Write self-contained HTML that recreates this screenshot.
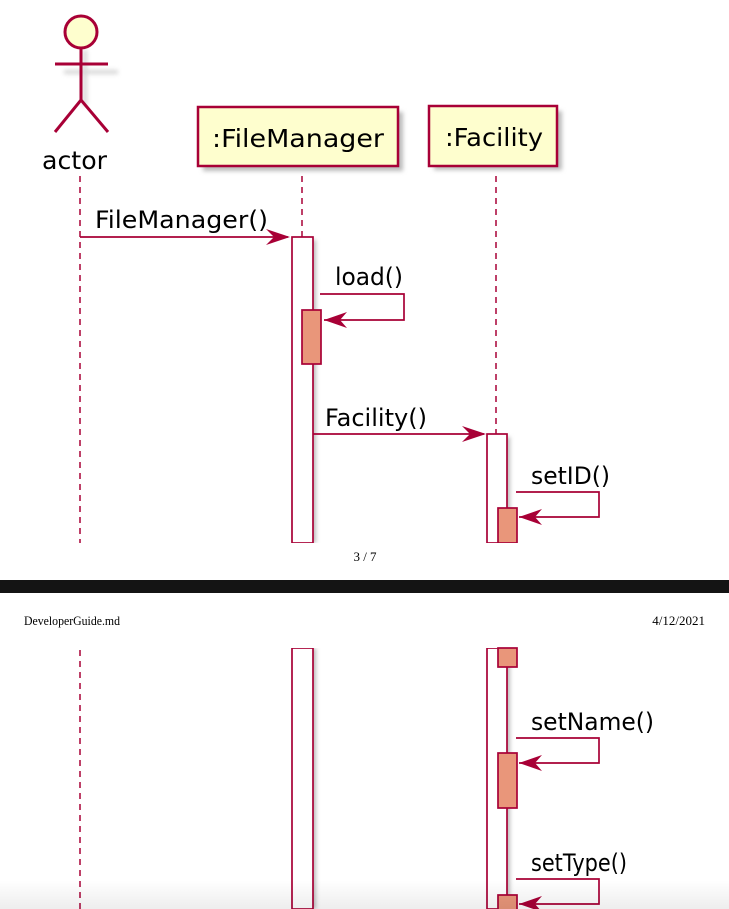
<!DOCTYPE html>
<html><head><meta charset="utf-8"><style>
html,body{margin:0;padding:0;background:#fff;width:729px;height:909px;overflow:hidden}
svg{display:block}
</style></head><body>
<svg width="729" height="909" viewBox="0 0 729 909" xmlns="http://www.w3.org/2000/svg">
<defs>
<filter id="sh" x="-20%" y="-20%" width="150%" height="150%"><feGaussianBlur stdDeviation="2"/></filter>
<linearGradient id="bot" x1="0" y1="0" x2="0" y2="1"><stop offset="0" stop-color="#000" stop-opacity="0"/><stop offset="1" stop-color="#000" stop-opacity="0.07"/></linearGradient>
</defs>
<g font-family="'DejaVu Sans','Liberation Sans',sans-serif" fill="#000">
<g stroke="#ccc" stroke-width="4" fill="none" filter="url(#sh)" opacity="0.8">
<line x1="64" y1="72" x2="118" y2="72"/><line x1="85" y1="50" x2="85" y2="106"/>
</g>
<circle cx="81" cy="32" r="16" fill="#FEFECE" stroke="#A80036" stroke-width="3"/>
<g stroke="#A80036" stroke-width="3" fill="none">
<line x1="55" y1="64" x2="108" y2="64"/><line x1="81" y1="48" x2="81" y2="100"/>
<polyline points="55,132 81,100 108,132"/>
</g>
<text x="42" y="169" font-size="25" textLength="65" lengthAdjust="spacingAndGlyphs">actor</text>
<rect x="203" y="112" width="200" height="59" fill="#bbb" filter="url(#sh)"/>
<rect x="198" y="107" width="200" height="59" fill="#FEFECE" stroke="#A80036" stroke-width="2.5"/>
<text x="212" y="147" font-size="25" textLength="172" lengthAdjust="spacingAndGlyphs">:FileManager</text>
<rect x="434" y="111" width="128" height="59" fill="#bbb" filter="url(#sh)"/>
<rect x="429" y="106" width="128" height="60" fill="#FEFECE" stroke="#A80036" stroke-width="2.5"/>
<text x="445" y="146" font-size="25" textLength="98" lengthAdjust="spacingAndGlyphs">:Facility</text>
<g stroke="#A80036" stroke-width="1.5" stroke-dasharray="6,5">
<line x1="80" y1="176" x2="80" y2="543"/>
<line x1="302" y1="176" x2="302" y2="237"/>
<line x1="496" y1="176" x2="496" y2="434"/>
<line x1="80" y1="650" x2="80" y2="909"/>
</g>
<line x1="80" y1="237" x2="288" y2="237" stroke="#A80036" stroke-width="1.7"/>
<polygon points="290,237 266,229 274,237 266,245" fill="#A80036"/>
<text x="95" y="228" font-size="24" textLength="173" lengthAdjust="spacingAndGlyphs">FileManager()</text>
<g filter="url(#sh)" fill="#bbb"><rect x="295" y="240" width="21" height="303"/><rect x="295" y="648" width="21" height="261"/><rect x="490" y="437" width="20" height="106"/><rect x="490" y="648" width="20" height="261"/></g>
<rect x="292" y="237" width="21" height="306" fill="#fff" stroke="#A80036" stroke-width="1.7"/>
<rect x="292" y="648" width="21" height="261" fill="#fff" stroke="#A80036" stroke-width="1.7"/>
<text x="335" y="285" font-size="24" textLength="68" lengthAdjust="spacingAndGlyphs">load()</text>
<polyline points="320,294 404,294 404,320 324,320" fill="none" stroke="#A80036" stroke-width="1.7"/>
<polygon points="324,320 347,312 340,320 347,328" fill="#A80036"/>
<rect x="302" y="310" width="19" height="54" fill="#E9967A" stroke="#A80036" stroke-width="1.7"/>
<line x1="313" y1="434" x2="484" y2="434" stroke="#A80036" stroke-width="1.7"/>
<polygon points="486,434 462,426 470,434 462,442" fill="#A80036"/>
<text x="325" y="426" font-size="24" textLength="102" lengthAdjust="spacingAndGlyphs">Facility()</text>
<rect x="487" y="434" width="20" height="109" fill="#fff" stroke="#A80036" stroke-width="1.7"/>
<rect x="487" y="648" width="20" height="261" fill="#fff" stroke="#A80036" stroke-width="1.7"/>
<text x="531" y="484" font-size="24" textLength="79" lengthAdjust="spacingAndGlyphs">setID()</text>
<polyline points="516,492 599,492 599,517 519,517" fill="none" stroke="#A80036" stroke-width="1.7"/>
<polygon points="519,517 542,509 535,517 542,525" fill="#A80036"/>
<rect x="498" y="508" width="19" height="35" fill="#E9967A" stroke="#A80036" stroke-width="1.7"/>
<rect x="0" y="543" width="729" height="105" fill="#fff"/>
<text x="365" y="561" font-size="13" font-family="'Liberation Serif',serif" text-anchor="middle">3 / 7</text>
<rect x="0" y="580" width="729" height="13" fill="#141414"/>
<text x="24" y="625" font-size="13" font-family="'Liberation Serif',serif" textLength="96" lengthAdjust="spacingAndGlyphs">DeveloperGuide.md</text>
<text x="705" y="625" font-size="13" font-family="'Liberation Serif',serif" text-anchor="end">4/12/2021</text>
<rect x="498" y="648" width="19" height="19" fill="#E9967A" stroke="#A80036" stroke-width="1.7"/>
<text x="531" y="730" font-size="24" textLength="123" lengthAdjust="spacingAndGlyphs">setName()</text>
<polyline points="516,738 599,738 599,763 519,763" fill="none" stroke="#A80036" stroke-width="1.7"/>
<polygon points="519,763 542,755 535,763 542,771" fill="#A80036"/>
<rect x="498" y="753" width="19" height="55" fill="#E9967A" stroke="#A80036" stroke-width="1.7"/>
<text x="531" y="871" font-size="24" textLength="96" lengthAdjust="spacingAndGlyphs">setType()</text>
<polyline points="516,879 599,879 599,904 519,904" fill="none" stroke="#A80036" stroke-width="1.7"/>
<polygon points="519,904 542,896 535,904 542,912" fill="#A80036"/>
<rect x="498" y="895" width="19" height="20" fill="#E9967A" stroke="#A80036" stroke-width="1.7"/>
<rect x="0" y="880" width="729" height="29" fill="url(#bot)"/>
</g>
</svg>
</body></html>
